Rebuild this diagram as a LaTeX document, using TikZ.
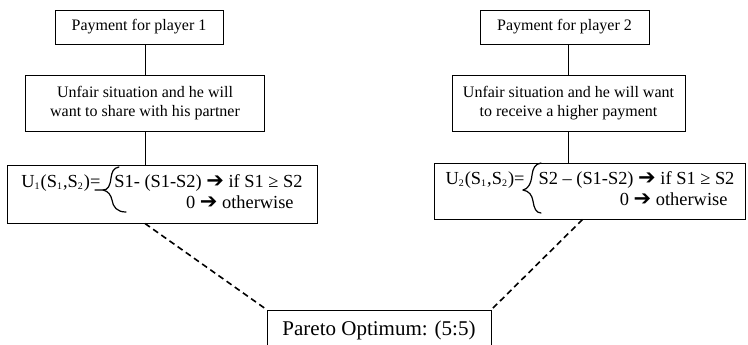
\documentclass[tikz,border=0pt]{standalone}
\usepackage{fontspec}
\setmainfont{Liberation Serif}
\newfontfamily\arrowfont{DejaVu Sans}
\usetikzlibrary{positioning}

\newcommand{\goesto}{{\arrowfont\fontsize{10.5}{10}\selectfont ➔}}
\newcommand{\idx}[1]{\textsubscript{\fontsize{5}{5}\selectfont #1}}

\begin{document}
\begin{tikzpicture}[
  x=0.5pt, y=0.5pt,
  node distance=15pt,
  box/.style={rectangle, draw, align=center, inner sep=2pt, line width=0.5pt, font=\fontsize{8}{9.5}\selectfont},
  formula/.style={box, font=\fontsize{9.2}{10.5}\selectfont},
  link/.style={line width=0.5pt},
  dashlink/.style={line width=0.8pt, dash pattern=on 3pt off 2pt},
  brace/.style={line width=0.6pt, line cap=round}
]
\useasboundingbox (0,0) rectangle (748,-344);

% player 1
\node[box, minimum width=84pt, minimum height=17pt] (pay1) at (139,-27) {Payment for player 1};
\node[box, minimum width=119.5pt, minimum height=28pt, below=15pt of pay1, xshift=3pt] (unfair1) {Unfair situation and he will\\want to share with his partner};
\node[formula, minimum width=155pt, minimum height=29pt, below=16.5pt of unfair1, xshift=8.5pt] (util1)
  {U\idx{1}(S\idx{1},S\idx{2})=\hspace{7pt}\begin{tabular}[t]{@{}r@{}}S1- (S1-S2) \goesto{} if S1 ≥ S2\\0 \goesto{} otherwise\hspace*{4.5pt}\end{tabular}};

% player 2
\node[box, minimum width=84.5pt, minimum height=17pt] (pay2) at (564.5,-27) {Payment for player 2};
\node[box, minimum width=116.5pt, minimum height=28pt, below=15pt of pay2, xshift=2pt] (unfair2) {Unfair situation and he will want\\to receive a higher payment};
\node[formula, minimum width=155.5pt, minimum height=28pt, below=15.5pt of unfair2, xshift=10.75pt] (util2)
  {U\idx{2}(S\idx{1},S\idx{2})=\hspace{7pt}\begin{tabular}[t]{@{}r@{}}S2 – (S1-S2) \goesto{} if S1 ≥ S2\\0 \goesto{} otherwise\hspace*{3.5pt}\end{tabular}};

% result
\node[box, font=\fontsize{10.5}{12}\selectfont, minimum width=112pt, minimum height=20pt] (pareto) at (379,-330) {Pareto Optimum: (5:5)};

\draw[link] (pay1.south -| unfair1.north) -- (unfair1.north);
\draw[link] (unfair1.south) -- (unfair1.south |- util1.north);
\draw[link] (pay2.south -| unfair2.north) -- (unfair2.north);
\draw[link] (unfair2.south) -- (unfair2.south |- util2.north);

\draw[dashlink] (util1.south -| unfair1.south) -- (pareto.north west);
\draw[dashlink] ([xshift=-3.75pt]util2.south) -- (pareto.north east);

% curly braces
\draw[brace] (119,-167) .. controls (113,-168) and (112,-172) .. (111,-178) .. controls (110,-186) and (108,-190) .. (103,-190) -- (95,-190);
\draw[brace] (103,-190) .. controls (108,-191) and (111,-195) .. (112,-200) .. controls (113,-207) and (117,-212) .. (126,-212);
\draw[brace] (541,-163) .. controls (535,-164) and (533,-168) .. (532,-175) .. controls (531,-184) and (528,-189) .. (523,-190);
\draw[brace] (523,-190) .. controls (529,-191) and (532,-195) .. (533,-201) .. controls (534,-208) and (536,-213) .. (541,-213);
\end{tikzpicture}
\end{document}
